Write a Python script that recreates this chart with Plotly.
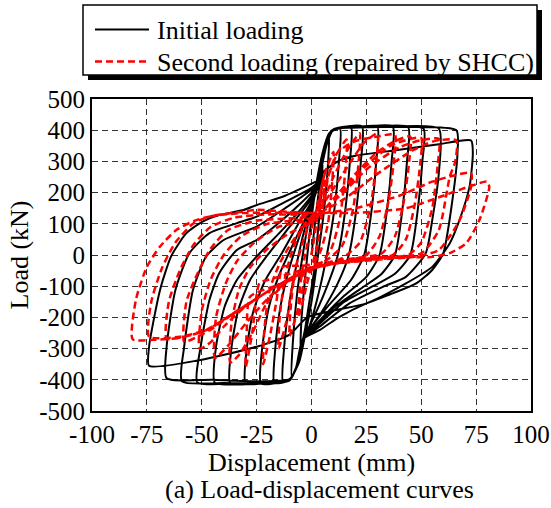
import plotly.graph_objects as go

# ---------------- data ----------------
x_ticks = [-100, -75, -50, -25, 0, 25, 50, 75, 100]
y_ticks = [-500, -400, -300, -200, -100, 0, 100, 200, 300, 400, 500]

# Initial loading: one list per cycle (displacement in mm, load in kN)
initial_disp = [
    [0, 2, 4, 5, 4.5, 3, 1, -1, -3, -5, -4.5, -3, -1, 1],
    [3, 5.5, 8, 7.5, 5.5, 3, 0, -3, -5.5, -9, -8.5, -6.5, -4, -1, 1.5],
    [3.5, 6, 9, 13, 12.5, 10.5, 7, 3, -1, -4, -7, -10, -13, -12.5, -10, -6.5, -2.5, 1.5],
    [3.5, 6, 9, 13, 18, 17.5, 15.5, 12, 6, 0, -4, -7, -10, -14, -17, -16.5, -14, -10, -5, 0, 2],
    [4, 6.5, 9.5, 14, 23, 22.5, 20.5, 17, 12, 4, -4, -7, -10, -15, -23, -22.5, -19.5, -14.5, -8, 0, 2.5],
    [4, 6.5, 9.5, 14, 22, 30, 29.5, 27.5, 24, 18, 8, 0, -4, -7, -10, -15, -22, -30, -29.5, -26.5, -21, -14, -6, 0, 3],
    [4, 7, 10, 15, 25, 37, 36.5, 34.5, 31, 25, 15, 5, -4, -7, -10, -16, -26, -37, -36.5, -33.5, -28, -20, -10, 0, 3],
    [4, 7, 10, 16, 30, 44, 43.5, 41.5, 38, 32, 22, 10, 2, -4, -7, -10, -17, -30, -44, -43.5, -39.6, -34, -25, -12, 0, 3],
    [4, 7, 10, 16, 33, 51, 50.5, 48.5, 45, 38, 28, 15, 3, -4, -7, -10, -18, -35, -52, -50.5, -46.5, -42, -34, -25, -12, 0, 3],
    [4, 7, 10, 17, 37, 58, 58, 55, 52, 43, 32.5, 17.3, 3.6, -4, -7, -10, -20, -40, -59, -58, -54, -48, -40, -25, -12, 0, 3],
    [4, 7, 10, 18, 40, 66, 66.5, 64, 60, 55, 47.7, 37, 25, 12.8, 3.6, -4, -7, -10, -22, -45, -66, -66, -62, -55.6, -46.5, -34, -25, -12, 0, 3],
    [6, 12, 20, 40, 58, 72.7, 73.5, 72, 67.4, 63, 55, 42, 25, 10, -2, -10, -25, -51, -74, -74, -69, -64, -57, -49.6, -42, -31, -25, -12, 2],
]
initial_load = [
    [0, 130, 240, 300, 200, 80, -60, -150, -240, -300, -200, -80, 60, 170],
    [260, 340, 390, 290, 130, 0, -150, -260, -340, -390, -280, -120, 0, 120, 190],
    [250, 340, 395, 405, 300, 150, 0, -130, -230, -275, -360, -400, -405, -300, -150, -20, 100, 190],
    [250, 345, 398, 408, 410, 300, 150, 0, -120, -215, -270, -360, -400, -410, -410, -300, -160, -40, 70, 170, 205],
    [260, 350, 400, 410, 412, 300, 150, 0, -90, -190, -270, -360, -400, -410, -412, -300, -170, -60, 40, 160, 210],
    [255, 350, 400, 410, 412, 412, 300, 150, 0, -80, -160, -230, -272, -362, -402, -410, -412, -412, -300, -180, -80, 0, 100, 170, 220],
    [260, 355, 402, 410, 412, 412, 300, 150, 0, -70, -130, -200, -272, -362, -402, -410, -412, -412, -300, -180, -80, 0, 90, 180, 225],
    [260, 355, 402, 410, 412, 410, 300, 150, 0, -60, -110, -170, -230, -272, -362, -402, -410, -412, -410, -294, -166, -80, -5, 90, 190, 228],
    [262, 357, 403, 410, 412, 405, 300, 150, 0, -60, -100, -150, -225, -272, -362, -402, -410, -412, -408, -294, -144, -58, 16, 48, 120, 200, 230],
    [262, 358, 403, 410, 412, 405, 262, 112, 5, -70, -102, -155, -230, -272, -362, -402, -410, -410, -405, -294, -112, -5, 48, 91, 150, 210, 232],
    [262, 358, 403, 408, 410, 400, 327, 166, 5, -48, -91, -123, -155, -198, -241, -270, -360, -398, -405, -400, -395, -294, -112, 6, 70, 102, 123, 170, 215, 235],
    [270, 300, 318, 337, 355, 367, 327, 219, 112, 38, -38, -95, -155, -178, -200, -255, -294, -337, -355, -294, -112, -5, 70, 107, 128, 144, 160, 190, 235],
]

# Second loading (repaired by SHCC): one list per cycle
second_disp = [
    [0, 2, 4, 6, 5.5, 3, 0, -2, -4, -6, -5.5, -3.5, -1, 1],
    [3, 6, 10, 9.5, 7.5, 4, 0, -3, -6, -10, -9.5, -7.5, -4, -1, 1.5],
    [4, 8, 12, 16, 15.5, 13, 9, 3, -3, -8, -11, -15, -14.5, -12, -8, -3, 1],
    [5, 10, 15, 19, 22, 21.5, 19, 14, 6, -4, -13, -16, -19, -22, -21.5, -19, -14, -7, 0, 3],
    [6, 12, 18, 24, 30, 29.5, 27, 22, 14, 4, -10, -20, -23.7, -27, -30, -29.5, -28, -15, 0, 3, 5],
    [8, 12, 20, 30, 38, 37.5, 35, 31, 25, 12, 0, -10, -20, -27, -33, -37, -36.5, -33, -28, -20, -10, 0],
    [10, 20, 30, 38, 45, 44.5, 42, 38, 32, 15, 0, -10, -20, -30, -38, -44, -43.5, -39, -34, -26, -15, 0],
    [12, 24, 36, 45, 50, 49.5, 47, 43, 37, 20, 0, -16, -30, -40, -46, -51, -50, -46, -40, -32, -20, 0],
    [13, 26, 40, 50, 58, 57.5, 55, 50, 44, 25, 0, -16, -33, -45, -52, -58, -57, -52, -46, -38, -25, 0],
    [15, 30, 46, 56, 66, 65.5, 63, 58, 50, 30, 0, -16, -33, -48, -58, -66, -65, -60, -54, -46, -35, -20, 0],
    [20, 40, 55, 65, 72.7, 72.7, 67.5, 58, 47.7, 30, 0, -16, -33, -48, -60, -74, -73, -68, -62, -54, -46.5, -30, 0],
    [20, 43, 60, 72, 80, 81, 76.5, 70.5, 63, 55, 40, 20, 0, -16, -33, -48, -60, -72, -81.5, -80, -75, -69, -61.6, -52.5, -43, -31, -25, -10, 0],
]
second_load = [
    [0, 90, 190, 260, 180, 40, -40, -90, -150, -200, -120, -20, 60, 110],
    [170, 260, 330, 240, 100, 10, -40, -80, -170, -260, -170, -50, 40, 100, 130],
    [170, 260, 330, 370, 280, 120, 20, -35, -45, -80, -200, -300, -200, -70, 30, 100, 130],
    [170, 250, 320, 365, 390, 300, 150, 30, -20, -35, -38, -150, -262, -350, -240, -110, -20, 60, 110, 140],
    [170, 235, 300, 360, 390, 300, 160, 40, -10, -30, -60, -80, -90, -250, -360, -240, -134, -95, -50, 40, 147],
    [260, 330, 365, 380, 385, 300, 170, 60, 0, -25, -45, -80, -150, -250, -320, -345, -220, -110, -40, 20, 70, 105],
    [180, 260, 330, 365, 380, 300, 170, 60, 5, -15, -45, -80, -140, -220, -290, -330, -200, -90, -20, 40, 90, 115],
    [190, 280, 350, 372, 375, 290, 160, 50, 0, -15, -45, -100, -165, -230, -280, -300, -180, -80, 0, 60, 100, 120],
    [190, 280, 345, 368, 372, 290, 150, 40, 0, -12, -42, -100, -175, -235, -262, -278, -150, -60, 20, 80, 110, 125],
    [180, 260, 335, 365, 368, 300, 251, 80, 5, -8, -40, -100, -177, -241, -262, -268, -150, -50, 30, 90, 120, 130, 130],
    [150, 190, 235, 255, 263, 219, 112, 16, -5, -15, -40, -100, -175, -240, -262, -262, -150, -40, 40, 100, 123, 135, 135],
    [135, 150, 190, 220, 235, 218, 112, 38, 6, -6, -8, -20, -40, -100, -175, -241, -265, -272, -270, -144, -38, 27, 80, 112, 128, 139, 145, 138, 135],
]

series_names = ["Initial loading", "Second loading (repaired by SHCC)"]
series_colors = ["black", "#ff0000"]


def join(cycles):
    out = []
    for c in cycles:
        out.extend(c)
    return out


FONT = "Liberation Serif, Times New Roman, serif"
RED_DASH = "7px,4px"

fig = go.Figure()
fig.add_trace(go.Scatter(
    x=join(initial_disp), y=join(initial_load), mode="lines", name=series_names[0],
    line=dict(color=series_colors[0], width=2, shape="spline", smoothing=0.6),
    showlegend=False,
))
fig.add_trace(go.Scatter(
    x=join(second_disp), y=join(second_load), mode="lines", name=series_names[1],
    line=dict(color=series_colors[1], width=2.5, dash=RED_DASH, shape="spline", smoothing=0.6),
    showlegend=False,
))

W, H = 551, 508
L, R, T, B = 92, 20, 99, 97
pw, ph = W - L - R, H - T - B


def px2paper(px, py):
    return (px - L) / pw, (H - B - py) / ph


axis_common = dict(
    showgrid=True, gridcolor="#333333", gridwidth=1, griddash="6px,4px",
    showline=True, linecolor="black", linewidth=2, mirror=True,
    zeroline=False, ticks="", tickfont=dict(family=FONT, size=25, color="black"),
)

fig.update_xaxes(range=[-100, 100], tickvals=x_ticks, ticktext=[str(v) for v in x_ticks],
                 title=dict(text="Displacement (mm)", font=dict(family=FONT, size=26, color="black"), standoff=4),
                 **axis_common)
fig.update_yaxes(range=[-500, 500], tickvals=y_ticks, ticktext=[str(v) for v in y_ticks],
                 title=dict(text="Load (kN)", font=dict(family=FONT, size=26, color="black"), standoff=3),
                 **axis_common)

# ---- legend box (with drop shadow), drawn as shapes + text ----
def rect(px0, py0, px1, py1, **kw):
    x0, y0 = px2paper(px0, py0)
    x1, y1 = px2paper(px1, py1)
    fig.add_shape(type="rect", xref="paper", yref="paper", x0=x0, y0=y0, x1=x1, y1=y1,
                  layer="above", **kw)


rect(88, 10, 542, 80, fillcolor="black", line=dict(width=0))
rect(83, 5, 537, 75, fillcolor="white", line=dict(color="black", width=1.5))

legend_rows_y = [29.5, 61.5]
legend_dash = ["solid", RED_DASH]
legend_width = [2, 2.5]
for i in range(2):
    x0, yy = px2paper(95, legend_rows_y[i])
    x1, _ = px2paper(149, legend_rows_y[i])
    fig.add_shape(type="line", xref="paper", yref="paper", x0=x0, x1=x1, y0=yy, y1=yy,
                  layer="above", line=dict(color=series_colors[i], width=legend_width[i], dash=legend_dash[i]))
    tx, ty = px2paper(155, legend_rows_y[i] + 1)
    fig.add_annotation(text=series_names[i], xref="paper", yref="paper", x=tx, y=ty,
                       showarrow=False, xanchor="left", yanchor="middle",
                       font=dict(family=FONT, size=26, color="black"))

ax_, ay_ = px2paper(319, 489)
fig.add_annotation(text="(a) Load-displacement curves", xref="paper", yref="paper", x=ax_, y=ay_,
                   showarrow=False, font=dict(family=FONT, size=26, color="black"),
                   xanchor="center", yanchor="middle")

fig.update_layout(
    width=W, height=H,
    margin=dict(l=L, r=R, t=T, b=B, autoexpand=False),
    plot_bgcolor="white", paper_bgcolor="white",
    font=dict(family=FONT, color="black"),
    showlegend=False,
)

fig.write_html("out.html", config={"displayModeBar": False},
               post_script="document.body.style.margin='0px';")
